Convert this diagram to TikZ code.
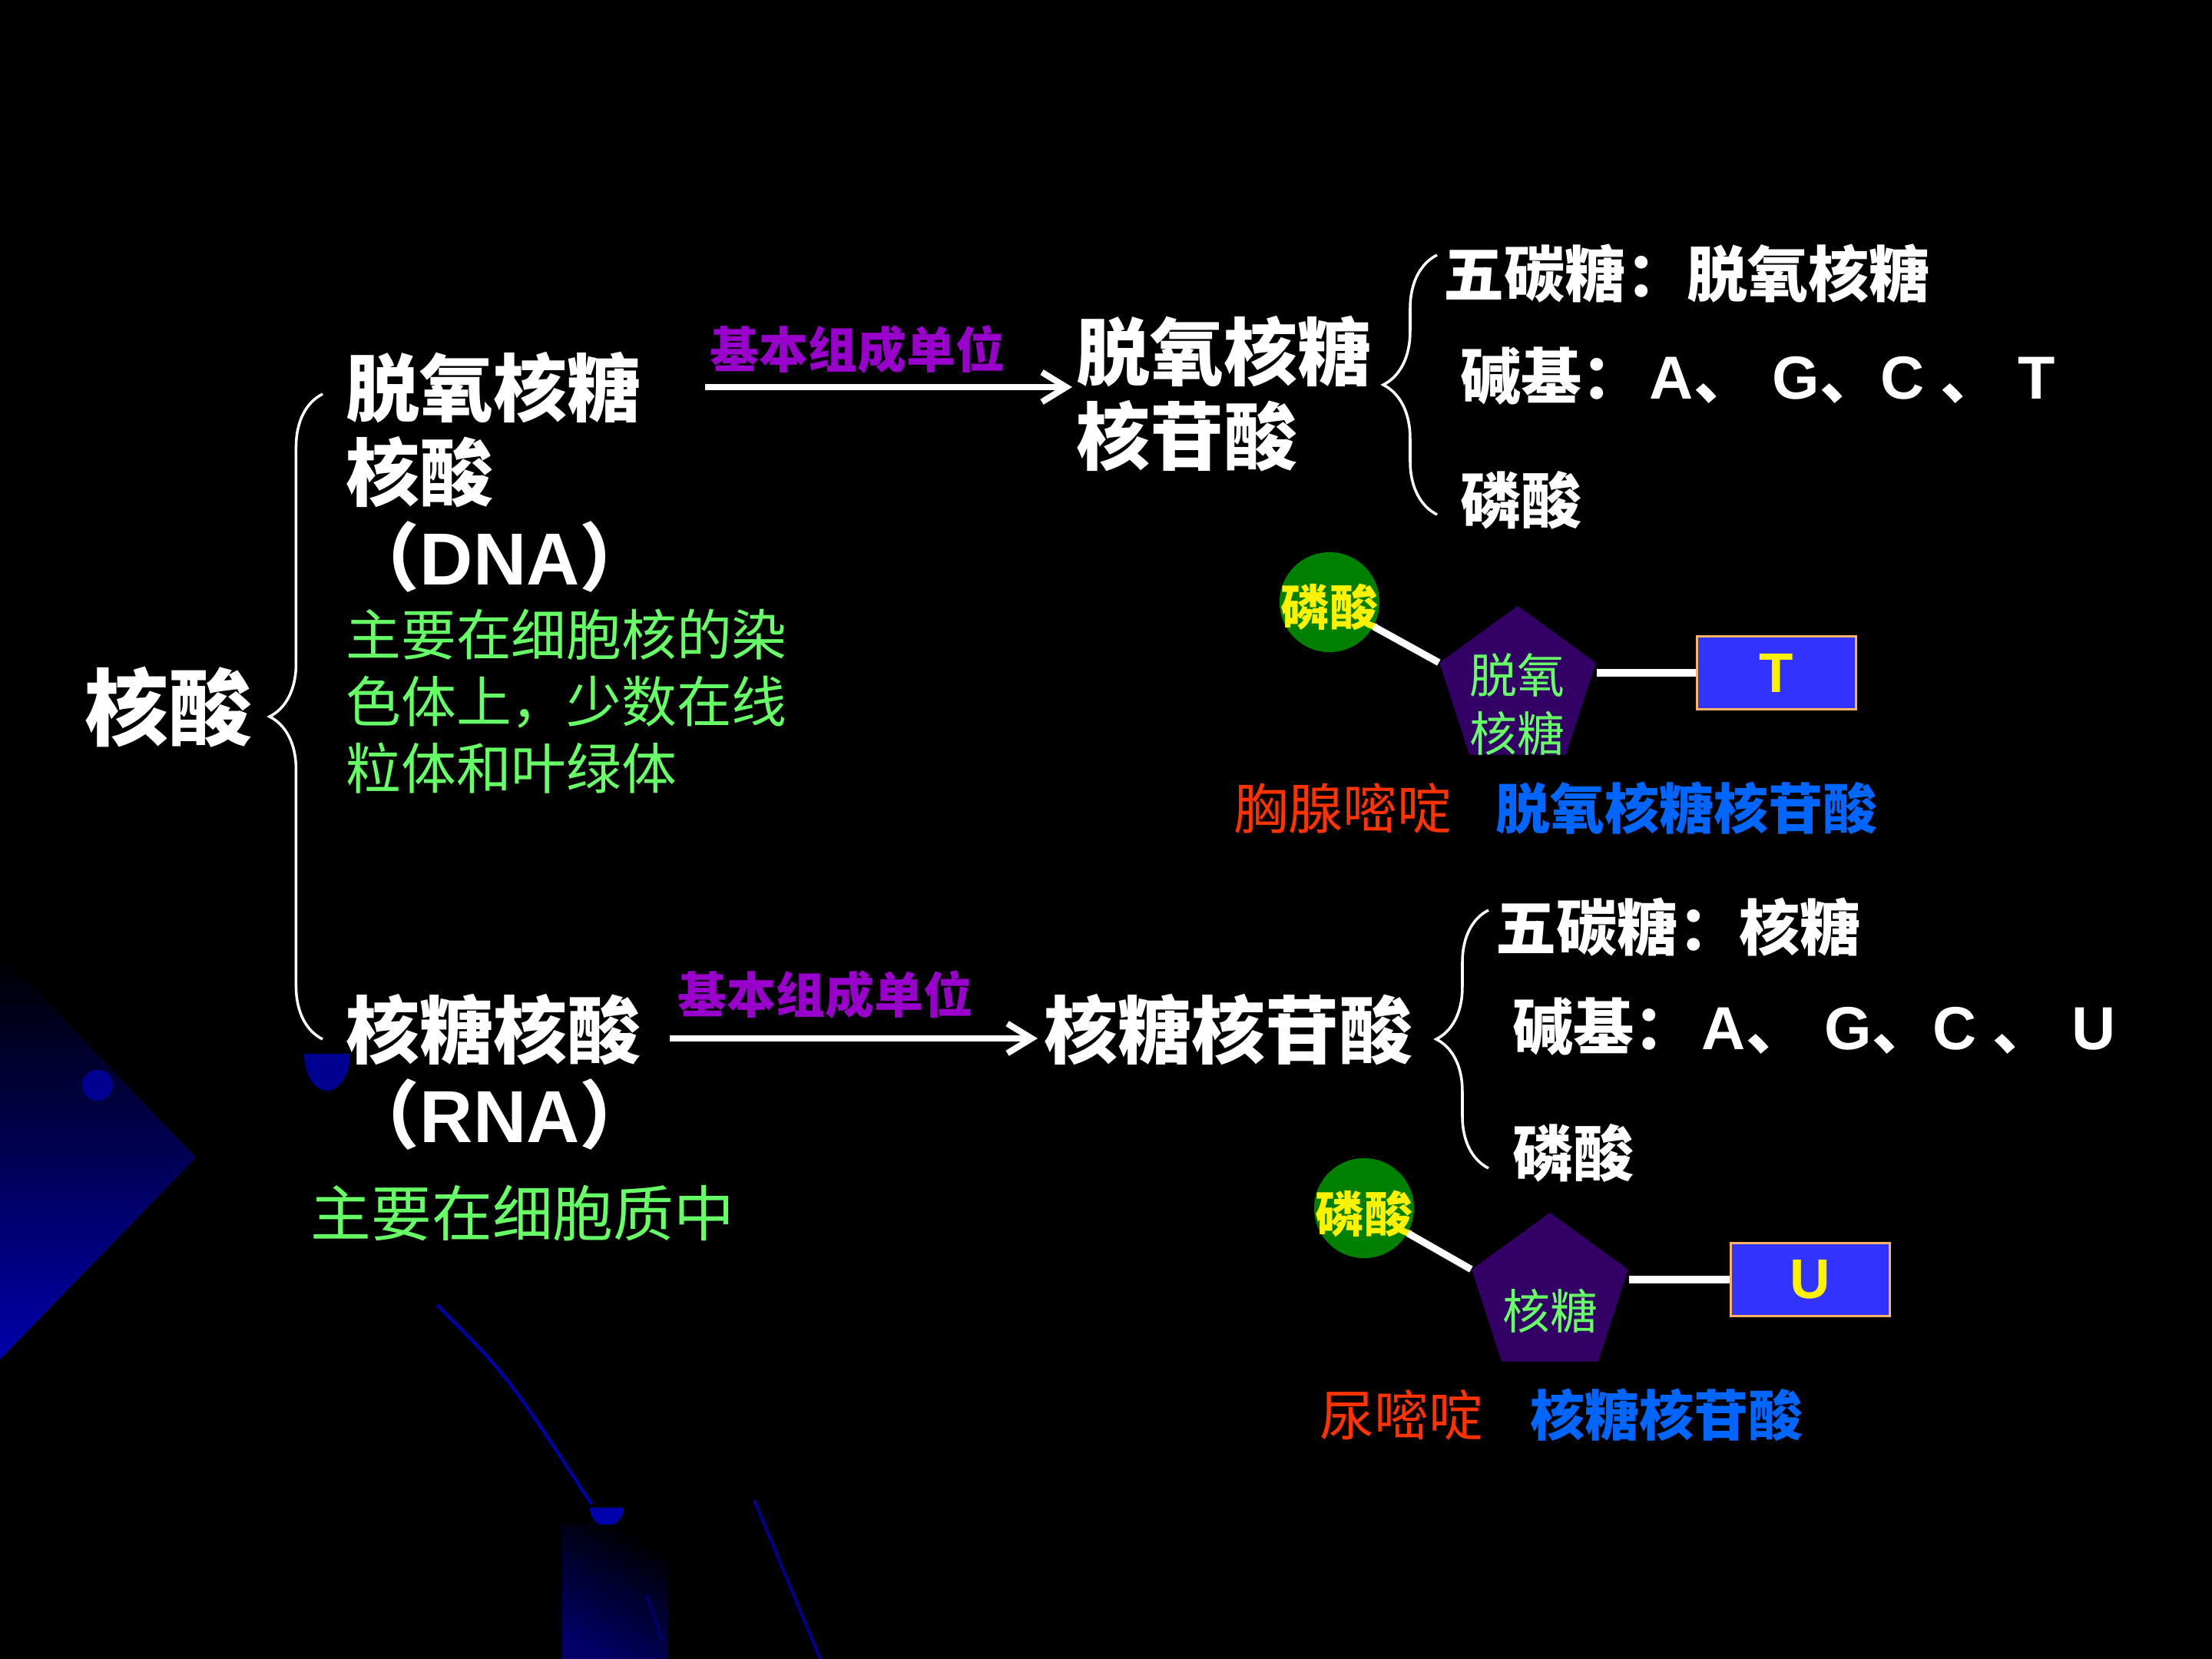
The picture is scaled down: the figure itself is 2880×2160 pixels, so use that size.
\documentclass[tikz,border=0pt]{standalone}
\usepackage{fontspec}
\newfontfamily\hei{Noto Sans CJK SC}
\newfontfamily\lat{Liberation Sans}
\usetikzlibrary{arrows.meta,shapes.geometric,decorations.pathreplacing}

\definecolor{unitpurple}{RGB}{153,0,204}
\definecolor{placegreen}{RGB}{102,255,102}
\definecolor{basered}{RGB}{255,51,0}
\definecolor{nameblue}{RGB}{0,102,255}
\definecolor{phosgreen}{RGB}{0,128,0}
\definecolor{sugarpurple}{RGB}{51,0,102}
\definecolor{boxblue}{RGB}{51,51,255}
\definecolor{boxedge}{RGB}{255,180,100}
\definecolor{decoblue}{RGB}{0,0,170}

\tikzset{
  bigword/.style={anchor=west, inner sep=0pt, text=white, font=\hei\bfseries\fontsize{31}{31}\selectfont},
  mainword/.style={anchor=west, inner sep=0pt, text=white, align=left, font=\hei\bfseries\fontsize{27.3}{31.3}\selectfont},
  unitword/.style={anchor=west, inner sep=0pt, text=unitpurple, font=\hei\bfseries\fontsize{18.2}{18.2}\selectfont},
  listword/.style={anchor=west, inner sep=0pt, text=white, font=\hei\bfseries\fontsize{22.5}{22.5}\selectfont},
  placeword/.style={anchor=west, inner sep=0pt, text=placegreen, align=left, font=\hei\fontsize{20.4}{24.7}\selectfont},
  basename/.style={anchor=west, inner sep=0pt, text=basered, font=\hei\fontsize{20.2}{20.2}\selectfont},
  nucname/.style={anchor=west, inner sep=0pt, text=nameblue, font=\hei\bfseries\fontsize{20.2}{20.2}\selectfont},
  phosball/.style={circle, fill=phosgreen, minimum size=1.30cm, inner sep=0pt},
  phostext/.style={inner sep=0pt, text=yellow, font=\hei\bfseries\fontsize{18}{18}\selectfont},
  sugarpent/.style={regular polygon, regular polygon sides=5, fill=sugarpurple, minimum size=2.14cm, inner sep=0pt},
  sugartext/.style={inner sep=0pt, text=placegreen, align=center, font=\hei\fontsize{17.6}{21.6}\selectfont},
  basebox/.style={rectangle, fill=boxblue, draw=boxedge, line width=0.8pt, minimum width=2.07cm, minimum height=0.95cm, inner sep=0pt, text=yellow, font=\lat\bfseries\fontsize{20.7}{20.7}\selectfont},
  bondline/.style={white, line width=2.6pt},
  unitarrow/.style={white, line width=2.3pt, -{Straight Barb[length=9pt,width=11pt]}},
  bracket/.style={white, line width=1pt, decorate},
  decoline/.style={decoblue, line width=1.2pt},
}

\begin{document}
\begin{tikzpicture}[x=0.01cm, y=-0.01cm]
  \useasboundingbox (0,0) rectangle (2880,2160);
  \fill[black] (0,0) rectangle (2880,2160);

  % background marks, lower left
  \fill[top color=black, middle color=decoblue!30!black, bottom color=decoblue] (0,1240) -- (255,1507) -- (0,1770) -- cycle;
  \fill[decoblue!85!black] (127,1413) circle[radius=20];
  \fill[decoblue!85!black] (396,1372) arc[start angle=180, end angle=0, x radius=30, y radius=48] -- cycle;
  \draw[decoline] (569,1699) .. controls (660,1790) .. (770,1958);
  \fill[decoblue] (768,1963) arc[start angle=180, end angle=0, x radius=22, y radius=24] -- cycle;
  \fill[top color=black, bottom color=decoblue!60!black, shading angle=-30] (732,1985) rectangle (870,2160);
  \draw[decoline, decoblue!60!black] (842,2077) -- (863,2137);
  \draw[decoline, decoblue!80!black] (982,1953) -- (1068,2160);

  % left column
  \node[bigword] (nucleic) at (110,921) {核酸};
  \coordinate (bigB) at (420,1353);
  \coordinate (bigT) at (420,513);
  \draw[bracket, decoration={brace, amplitude=0.69cm}] (bigB) -- (bigT);

  \node[mainword] (dna) at (450,615) {脱氧核糖\\核酸\\（{\lat DNA}）};
  \node[placeword] (dnaplace) at (450,913) {主要在细胞核的染\\色体上，少数在线\\粒体和叶绿体};
  \node[mainword] (rna) at (450,1396) {核糖核酸\\（{\lat RNA}）};
  \node[placeword, font=\hei\fontsize{22.4}{22.4}\selectfont] (rnaplace) at (404,1580) {主要在细胞质中};

  % arrows to the units
  \node[unitword] (unitD) at (924,455) {基本组成单位};
  \coordinate (arrDs) at (918,504);
  \coordinate (arrDe) at (1396,504);
  \draw[unitarrow] (arrDs) -- (arrDe);
  \node[unitword] (unitR) at (882,1295) {基本组成单位};
  \coordinate (arrRs) at (872,1352);
  \coordinate (arrRe) at (1351,1352);
  \draw[unitarrow] (arrRs) -- (arrRe);

  \node[mainword] (deoxynuc) at (1401,513) {脱氧核糖\\核苷酸};
  \node[mainword] (ribonuc) at (1359,1341) {核糖核苷酸};

  % DNA unit parts
  \coordinate (brDB) at (1871,670);
  \coordinate (brDT) at (1871,332);
  \draw[bracket, decoration={brace, amplitude=0.70cm}] (brDB) -- (brDT);
  \node[listword] (sugarD) at (1879,356) {五碳糖：脱氧核糖};
  \node[listword] (baseD) at (1901,490) {碱基：\hspace{2.5pt}{\lat A}、 \hspace{1.5pt}{\lat G}、{\lat C} \hspace{1pt}、 \hspace{1pt}{\lat T}};
  \node[listword] (phosD) at (1901,651) {磷酸};

  \node[phosball] (phD) at (1731,784) {};
  \node[phostext] (phDtext) at (1731,790) {磷酸};
  \node[sugarpent] (suD) at (1976,896) {};
  \node[sugartext] (suDtext) at (1975,917) {脱氧\\核糖};
  \node[basebox] (bD) at (2313,876) {T};
  \draw[bondline] (phD) -- (suD.corner 2);
  \draw[bondline] (suD.corner 5 |- bD.west) -- (bD.west);
  \node[basename] (thy) at (1606,1052) {胸腺嘧啶};
  \node[nucname] (deoxyname) at (1947,1052) {脱氧核糖核苷酸};

  % RNA unit parts
  \coordinate (brRB) at (1938,1521);
  \coordinate (brRT) at (1938,1185);
  \draw[bracket, decoration={brace, amplitude=0.68cm}] (brRB) -- (brRT);
  \node[listword] (sugarR) at (1947,1207) {五碳糖：核糖};
  \node[listword] (baseR) at (1969,1337) {碱基：\hspace{2.5pt}{\lat A}、 \hspace{1.5pt}{\lat G}、{\lat C} \hspace{1pt}、 \hspace{1.5pt}{\lat U}};
  \node[listword] (phosR) at (1969,1501) {磷酸};

  \node[phosball] (phR) at (1776,1573) {};
  \node[phostext] (phRtext) at (1776,1580) {磷酸};
  \node[sugarpent] (suR) at (2018,1686) {};
  \node[sugartext] (suRtext) at (2018,1707) {核糖};
  \node[basebox] (bR) at (2357,1666) {U};
  \draw[bondline] (phR) -- (suR.corner 2);
  \draw[bondline] (suR.corner 5 |- bR.west) -- (bR.west);
  \node[basename] (ura) at (1718,1842) {尿嘧啶};
  \node[nucname] (riboname) at (1992,1842) {核糖核苷酸};
\end{tikzpicture}
\end{document}
